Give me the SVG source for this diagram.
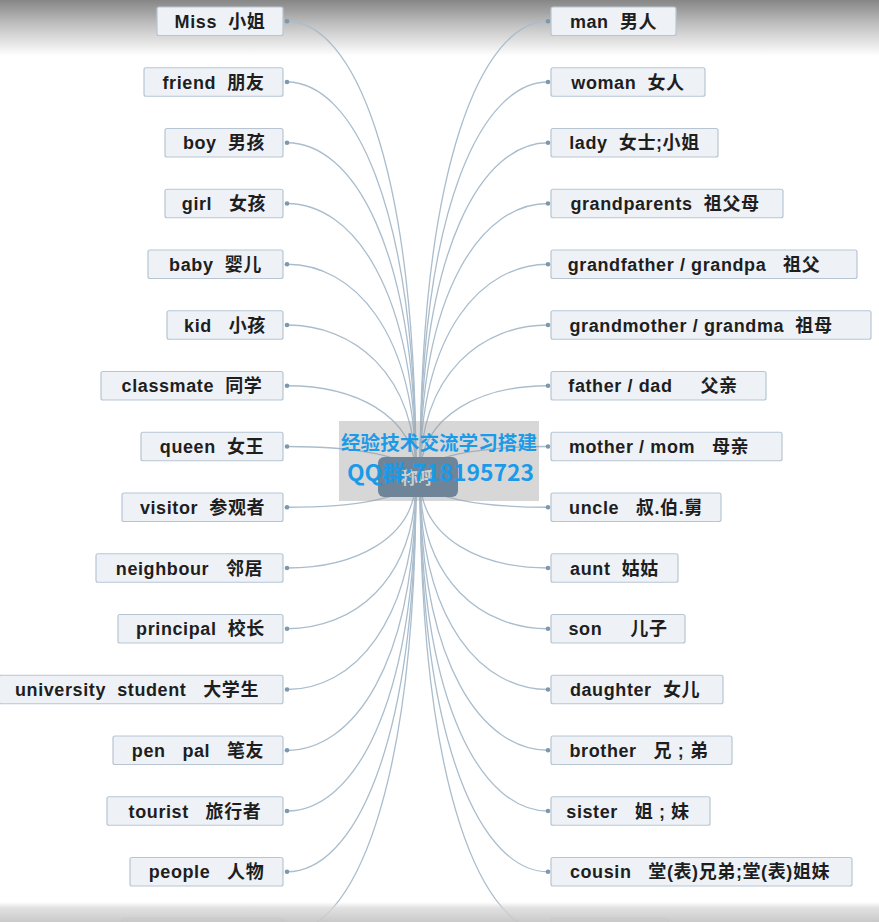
<svg xmlns="http://www.w3.org/2000/svg" width="879" height="922" viewBox="0 0 879 922">
<defs>
<linearGradient id="topg" x1="0" y1="0" x2="0" y2="1">
<stop offset="0" stop-color="#868686"/>
<stop offset="0.45" stop-color="#c2c2c2"/>
<stop offset="1" stop-color="#ffffff"/>
</linearGradient>
<linearGradient id="botg" x1="0" y1="0" x2="0" y2="1">
<stop offset="0" stop-color="#d8d8d8" stop-opacity="0"/>
<stop offset="0.3" stop-color="#d6d6d6" stop-opacity="0.75"/>
<stop offset="1" stop-color="#c6c6c6" stop-opacity="0.95"/>
</linearGradient>
</defs>
<style>
.n rect{fill:#eef2f7;stroke:#b7c5d3;stroke-width:1.2}
.n text{font-family:"Liberation Sans","Noto Sans CJK SC",sans-serif;font-weight:bold;font-size:18px;letter-spacing:0.6px;fill:#1e1e1e;text-anchor:middle;white-space:pre}
#connectors path{fill:none;stroke:#aabdcd;stroke-width:1.3}
#connectors circle{fill:#7c97ae}
.wm{font-family:"Noto Sans CJK SC",sans-serif;fill:#1b9ae8;text-anchor:middle}
</style>
<rect x="0" y="0" width="879" height="922" fill="#ffffff"/>
<rect x="0" y="0" width="879" height="56" fill="url(#topg)"/>
<g id="connectors">
<path d="M287,21.25 C351.5,21.25 416,158 416,477"/>
<path d="M287,82 C351.5,82 416,200.5 416,477"/>
<path d="M287,142.75 C351.5,142.75 416,243 416,477"/>
<path d="M287,203.5 C351.5,203.5 416,285.5 416,477"/>
<path d="M287,264.25 C351.5,264.25 416,328 416,477"/>
<path d="M287,325 C351.5,325 416,370.6 416,477"/>
<path d="M287,385.75 C351.5,385.75 416,413 416,477"/>
<path d="M287,446.5 C351.5,446.5 416,455.6 416,477"/>
<path d="M287,507.25 C351.5,507.25 416,498.1 416,477"/>
<path d="M287,568 C351.5,568 416,540.7 416,477"/>
<path d="M287,628.75 C351.5,628.75 416,583.2 416,477"/>
<path d="M287,689.5 C351.5,689.5 416,625.7 416,477"/>
<path d="M287,750.25 C351.5,750.25 416,668.3 416,477"/>
<path d="M287,811 C351.5,811 416,710.8 416,477"/>
<path d="M287,871.75 C351.5,871.75 416,753.3 416,477"/>
<path d="M287,932.5 C351.5,932.5 416,795.9 416,477"/>
<path d="M548,21.25 C484,21.25 420,158 420,477"/>
<path d="M548,82 C484,82 420,200.5 420,477"/>
<path d="M548,142.75 C484,142.75 420,243 420,477"/>
<path d="M548,203.5 C484,203.5 420,285.5 420,477"/>
<path d="M548,264.25 C484,264.25 420,328 420,477"/>
<path d="M548,325 C484,325 420,370.6 420,477"/>
<path d="M548,385.75 C484,385.75 420,413 420,477"/>
<path d="M548,446.5 C484,446.5 420,455.6 420,477"/>
<path d="M548,507.25 C484,507.25 420,498.1 420,477"/>
<path d="M548,568 C484,568 420,540.7 420,477"/>
<path d="M548,628.75 C484,628.75 420,583.2 420,477"/>
<path d="M548,689.5 C484,689.5 420,625.7 420,477"/>
<path d="M548,750.25 C484,750.25 420,668.3 420,477"/>
<path d="M548,811 C484,811 420,710.8 420,477"/>
<path d="M548,871.75 C484,871.75 420,753.3 420,477"/>
<path d="M548,932.5 C484,932.5 420,795.9 420,477"/>
<circle cx="287" cy="21.25" r="2.3"/><circle cx="287" cy="82" r="2.3"/><circle cx="287" cy="142.75" r="2.3"/><circle cx="287" cy="203.5" r="2.3"/>
<circle cx="287" cy="264.25" r="2.3"/><circle cx="287" cy="325" r="2.3"/><circle cx="287" cy="385.75" r="2.3"/><circle cx="287" cy="446.5" r="2.3"/>
<circle cx="287" cy="507.25" r="2.3"/><circle cx="287" cy="568" r="2.3"/><circle cx="287" cy="628.75" r="2.3"/><circle cx="287" cy="689.5" r="2.3"/>
<circle cx="287" cy="750.25" r="2.3"/><circle cx="287" cy="811" r="2.3"/><circle cx="287" cy="871.75" r="2.3"/>
<circle cx="548" cy="21.25" r="2.3"/><circle cx="548" cy="82" r="2.3"/><circle cx="548" cy="142.75" r="2.3"/><circle cx="548" cy="203.5" r="2.3"/>
<circle cx="548" cy="264.25" r="2.3"/><circle cx="548" cy="325" r="2.3"/><circle cx="548" cy="385.75" r="2.3"/><circle cx="548" cy="446.5" r="2.3"/>
<circle cx="548" cy="507.25" r="2.3"/><circle cx="548" cy="568" r="2.3"/><circle cx="548" cy="628.75" r="2.3"/><circle cx="548" cy="689.5" r="2.3"/>
<circle cx="548" cy="750.25" r="2.3"/><circle cx="548" cy="811" r="2.3"/><circle cx="548" cy="871.75" r="2.3"/>
</g>
<g id="center">
<rect x="378" y="457" width="80" height="40" rx="6" fill="#4f7598"/>
<text x="418" y="484" font-family="'Noto Sans CJK SC',sans-serif" font-weight="bold" font-size="17" fill="#f4f4f4" text-anchor="middle">称呼</text>
</g>
<g id="l0" class="n"><rect x="157" y="7" width="126" height="28.5" rx="2"/><text x="220" y="27.75">Miss  小姐</text></g>
<g id="l1" class="n"><rect x="144" y="67.75" width="139" height="28.5" rx="2"/><text x="213.5" y="88.5">friend  朋友</text></g>
<g id="l2" class="n"><rect x="165" y="128.5" width="118" height="28.5" rx="2"/><text x="224" y="149.25">boy  男孩</text></g>
<g id="l3" class="n"><rect x="165" y="189.25" width="118" height="28.5" rx="2"/><text x="224" y="210">girl   女孩</text></g>
<g id="l4" class="n"><rect x="148" y="250" width="135" height="28.5" rx="2"/><text x="215.5" y="270.75">baby  婴儿</text></g>
<g id="l5" class="n"><rect x="167" y="310.75" width="116" height="28.5" rx="2"/><text x="225" y="331.5">kid   小孩</text></g>
<g id="l6" class="n"><rect x="101" y="371.5" width="182" height="28.5" rx="2"/><text x="192" y="392.25">classmate  同学</text></g>
<g id="l7" class="n"><rect x="141" y="432.25" width="142" height="28.5" rx="2"/><text x="212" y="453">queen  女王</text></g>
<g id="l8" class="n"><rect x="122" y="493" width="161" height="28.5" rx="2"/><text x="202.5" y="513.75">visitor  参观者</text></g>
<g id="l9" class="n"><rect x="96" y="553.75" width="187" height="28.5" rx="2"/><text x="189.5" y="574.5">neighbour   邻居</text></g>
<g id="l10" class="n"><rect x="118" y="614.5" width="165" height="28.5" rx="2"/><text x="200.5" y="635.25">principal  校长</text></g>
<g id="l11" class="n"><rect x="-1" y="675.25" width="284" height="28.5" rx="2"/><text x="137" y="696">university  student   大学生</text></g>
<g id="l12" class="n"><rect x="113" y="736" width="170" height="28.5" rx="2"/><text x="198" y="756.75">pen   pal   笔友</text></g>
<g id="l13" class="n"><rect x="107" y="796.75" width="176" height="28.5" rx="2"/><text x="195" y="817.5">tourist   旅行者</text></g>
<g id="l14" class="n"><rect x="130" y="857.5" width="153" height="28.5" rx="2"/><text x="206.5" y="878.25">people   人物</text></g>
<g id="l15" class="n"><rect x="122" y="918.25" width="161" height="28.5" rx="2"/></g>
<g id="r0" class="n"><rect x="551" y="7" width="125" height="28.5" rx="2"/><text x="613.5" y="27.75">man  男人</text></g>
<g id="r1" class="n"><rect x="551" y="67.75" width="154" height="28.5" rx="2"/><text x="628" y="88.5">woman  女人</text></g>
<g id="r2" class="n"><rect x="551" y="128.5" width="167" height="28.5" rx="2"/><text x="634.5" y="149.25">lady  女士;小姐</text></g>
<g id="r3" class="n"><rect x="551" y="189.25" width="232" height="28.5" rx="2"/><text x="665" y="210">grandparents  祖父母</text></g>
<g id="r4" class="n"><rect x="551" y="250" width="306" height="28.5" rx="2"/><text x="694" y="270.75">grandfather / grandpa   祖父</text></g>
<g id="r5" class="n"><rect x="551" y="310.75" width="320" height="28.5" rx="2"/><text x="701" y="331.5">grandmother / grandma  祖母</text></g>
<g id="r6" class="n"><rect x="551" y="371.5" width="215" height="28.5" rx="2"/><text x="653" y="392.25">father / dad     父亲</text></g>
<g id="r7" class="n"><rect x="551" y="432.25" width="231" height="28.5" rx="2"/><text x="659" y="453">mother / mom   母亲</text></g>
<g id="r8" class="n"><rect x="551" y="493" width="170" height="28.5" rx="2"/><text x="636" y="513.75">uncle   叔.伯.舅</text></g>
<g id="r9" class="n"><rect x="551" y="553.75" width="127" height="28.5" rx="2"/><text x="614.5" y="574.5">aunt  姑姑</text></g>
<g id="r10" class="n"><rect x="551" y="614.5" width="134" height="28.5" rx="2"/><text x="618" y="635.25">son     儿子</text></g>
<g id="r11" class="n"><rect x="551" y="675.25" width="172" height="28.5" rx="2"/><text x="635" y="696">daughter  女儿</text></g>
<g id="r12" class="n"><rect x="551" y="736" width="181" height="28.5" rx="2"/><text x="639" y="756.75">brother   兄 ; 弟</text></g>
<g id="r13" class="n"><rect x="551" y="796.75" width="159" height="28.5" rx="2"/><text x="628" y="817.5">sister   姐 ; 妹</text></g>
<g id="r14" class="n"><rect x="551" y="857.5" width="301" height="28.5" rx="2"/><text x="700" y="878.25">cousin   堂(表)兄弟;堂(表)姐妹</text></g>
<g id="r15" class="n"><rect x="551" y="918.25" width="117" height="28.5" rx="2"/></g>
<g id="watermark">
<rect x="339" y="421" width="200" height="80" fill="#9a9a9a" fill-opacity="0.4"/>
<text class="wm" x="439" y="450" font-size="19" font-weight="bold" textLength="196" lengthAdjust="spacingAndGlyphs">经验技术交流学习搭建</text>
<text class="wm" x="440.5" y="481" font-size="22" font-weight="bold" textLength="187" lengthAdjust="spacingAndGlyphs">QQ群:718195723</text>
</g>
<rect x="0" y="902" width="879" height="20" fill="url(#botg)"/>
</svg>
